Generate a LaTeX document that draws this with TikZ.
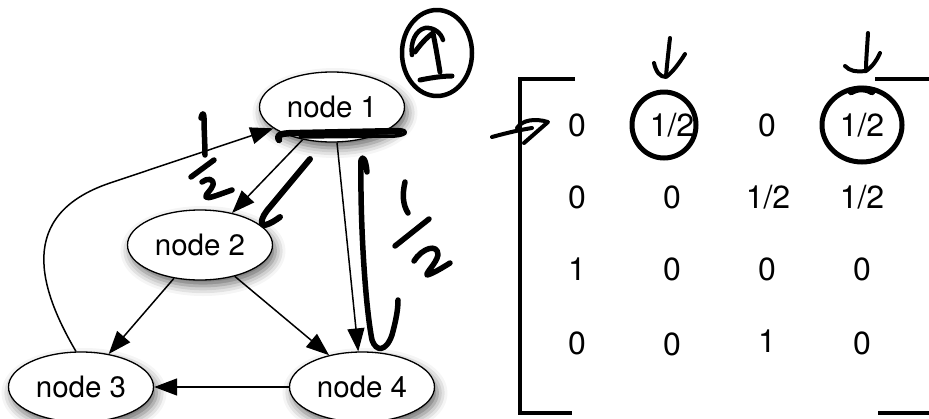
\documentclass[tikz,border=0pt]{standalone}
\usepackage{fontspec}
\setmainfont{TeX Gyre Heros}
\usetikzlibrary{arrows.meta,shapes.geometric,shadows.blur}
\begin{document}
\begin{tikzpicture}[x=1pt,y=-1pt,
  gnode/.style={ellipse, draw, line width=1.3pt, fill=white, minimum width=145pt, minimum height=70pt, inner sep=0pt,
    font=\fontsize{29.5}{34}\selectfont,
    blur shadow={shadow xshift=3pt, shadow yshift=-6pt, shadow blur radius=10pt, shadow opacity=60}},
  edge/.style={line width=1.5pt, -{Triangle[length=23pt,width=17pt]}},
  num/.style={anchor=base, font=\fontsize{32}{36}\selectfont, inner sep=0pt},
  hand/.style={line width=5.5pt, line cap=round, line join=round},
  bracket/.style={line width=4pt}]
\useasboundingbox (0,0) rectangle (929,418);

% graph nodes
\node[gnode] (n1) at (332,107) {node 1};
\node[gnode] (n2) at (200,245) {node 2};
\node[gnode] (n3) at (81,387) {node 3};
\node[gnode] (n4) at (362,387) {node 4};

% edges
\draw[edge] (n1.228) -- (n2.45);
\draw[edge] (n1.278) -- (n4.96);
\draw[edge] (n2.232) -- (n3.50);
\draw[edge] (n2.318) -- (n4.136);
\draw[edge] (n4.180) -- (n3.0);
\draw[edge] (n3.98) .. controls (40,290) and (15,215) .. (110,183) -- (n1.200);

% matrix
\draw[bracket] (575,79) -- (520,79) -- (520,413) -- (572,413);
\draw[bracket] (875,79) -- (940,79);
\draw[bracket] (878,413) -- (940,413);

\node[num] (m11) at (577,136) {0};
\node[num] (m12) at (672,136) {1/2};
\node[num] (m13) at (767,136) {0};
\node[num] (m14) at (862,136) {1/2};
\node[num] (m21) at (577,208) {0};
\node[num] (m22) at (672,208) {0};
\node[num] (m23) at (768,208) {1/2};
\node[num] (m24) at (862,208) {1/2};
\node[num] (m31) at (577,280) {1};
\node[num] (m32) at (672,280) {0};
\node[num] (m33) at (767,280) {0};
\node[num] (m34) at (862,280) {0};
\node[num] (m41) at (577,354) {0};
\node[num] (m42) at (672,355) {0};
\node[num] (m43) at (767,352) {1};
\node[num] (m44) at (862,354) {0};

% handwriting: circled 1
\draw[hand, line width=4.5pt] (437,53) ellipse [x radius=35, y radius=43];
\draw[hand, line width=4.5pt] (412,55) .. controls (410,42) and (416,30) .. (425,28) .. controls (434,27) and (441,33) .. (443,40);
\draw[hand, line width=5pt] (415,52) .. controls (420,45) and (426,38) .. (433,33) .. controls (436,48) and (438,60) .. (440,72);
\draw[hand, line width=5pt] (420,80) .. controls (430,78) and (442,76) .. (452,76);

% handwriting: 1/2 near node1 -> node2
\draw[hand] (201,118) .. controls (202,113) and (204,112) .. (204,118) .. controls (204,130) and (205,145) .. (205,155);
\draw[hand] (191,177) -- (214,160);
\draw[hand] (202,182) .. controls (207,178) and (214,178) .. (213,185) .. controls (211,191) and (205,194) .. (206,197) .. controls (208,199) and (215,196) .. (232,190);

% scribble beside node1 -> node2 arrow
\draw[hand, line width=6pt] (310,159) -- (270,207) .. controls (260,218) and (260,226) .. (265,225) .. controls (270,224) and (276,220) .. (280,217);

% loop under node 1
\draw[hand, line width=6.5pt] (279,140) .. controls (276,134) and (282,133) .. (300,133) -- (400,131);
\draw[hand, line width=3.5pt] (300,137) -- (395,136) .. controls (408,135) and (408,130) .. (400,130);

% J stroke along node1 -> node4
\draw[hand] (367,172) .. controls (366,160) and (363,155) .. (361,160) .. controls (360,230) and (366,310) .. (372,340) .. controls (376,352) and (386,352) .. (392,335) .. controls (396,320) and (398,310) .. (398,300);

% 1/2 near node1 -> node4
\draw[hand] (405,182) .. controls (402,195) and (403,205) .. (408,213);
\draw[hand] (395,246) -- (429,219);
\draw[hand] (414,261) .. controls (422,248) and (438,243) .. (438,255) .. controls (436,264) and (426,272) .. (427,275) .. controls (432,274) and (442,268) .. (450,263);

% arrow into first row
\draw[hand, line width=4pt] (492,137) .. controls (510,132) and (520,130) .. (532,128);
\draw[hand, line width=4pt] (517,128) .. controls (522,120) and (535,118) .. (548,122) -- (524,143);

% arrow + circle on column 2
\draw[hand, line width=4pt] (670,38) .. controls (668,55) and (667,65) .. (666,76);
\draw[hand, line width=4pt] (654,63) .. controls (656,72) and (660,77) .. (666,77) .. controls (673,72) and (680,62) .. (685,54);
\draw[hand, line width=5pt] (664,125) ellipse [x radius=32, y radius=33];
\draw[hand, line width=3pt] (634,116) .. controls (637,102) and (645,96) .. (655,94);

% arrow + circle on column 4
\draw[hand, line width=4pt] (868,33) .. controls (867,50) and (866,60) .. (866,70);
\draw[hand, line width=4pt] (845,66) .. controls (850,71) and (855,72) .. (866,71) .. controls (873,66) and (877,60) .. (880,53);
\draw[hand, line width=5pt] (862,125) ellipse [x radius=40, y radius=37];
\draw[hand, line width=6.5pt] (851,92) .. controls (858,88) and (866,88) .. (872,92);
\end{tikzpicture}
\end{document}
